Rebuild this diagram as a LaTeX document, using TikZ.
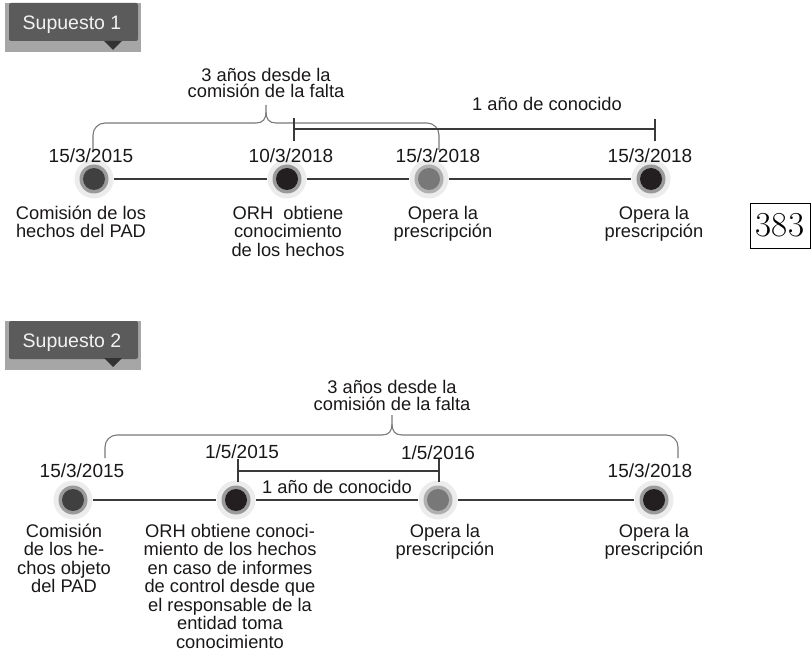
\documentclass[tikz,border=0pt]{standalone}
\usepackage{fontspec}
\newfontfamily\sansf{Liberation Sans}
\usetikzlibrary{calc}
\definecolor{txtc}{HTML}{1A1718}
\definecolor{linec}{HTML}{3A3A3A}
\definecolor{bracec}{HTML}{7A7A7A}
\definecolor{haloc}{HTML}{ECECEC}
\definecolor{ringA}{HTML}{9A9A9A}
\definecolor{ringB}{HTML}{B0B0B0}
\definecolor{innA}{HTML}{404040}
\definecolor{innB}{HTML}{231F20}
\definecolor{innC}{HTML}{787878}
\definecolor{tagbg}{HTML}{A6A6A6}
\definecolor{tagc}{HTML}{5B5B5B}
\definecolor{tagtri}{HTML}{333333}
\definecolor{tagtxt}{HTML}{F2F2F2}
\begin{document}
\begin{tikzpicture}[x=1pt,y=-1pt,
  txt/.style={font=\sansf\fontsize{18.3}{18.5}\selectfont, text=txtc, inner sep=0pt},
  datet/.style={txt, font=\sansf\fontsize{19}{19}\selectfont, anchor=base},
  lbl/.style={txt, align=center, anchor=north},
  bracetext/.style={txt, font=\sansf\fontsize{18.3}{16.5}\selectfont, align=center, anchor=base},
  dot/.style 2 args={circle, fill=haloc, minimum size=39, inner sep=0pt,
     path picture={\fill[#1] (path picture bounding box.center) circle[radius=14.5];
                   \fill[#2] (path picture bounding box.center) circle[radius=11];}},
  tline/.style={draw=linec, line width=2pt},
  bracket/.style={draw=linec, line width=1.8pt},
  brace/.style={draw=bracec, line width=1.1pt},
  tagbox/.style={fill=tagc, rounded corners=2pt, minimum width=129, minimum height=38, inner sep=0pt},
  tagtext/.style={font=\sansf\fontsize{19.5}{20}\selectfont, text=tagtxt, anchor=base, inner sep=0pt}
]
\useasboundingbox (0,0) rectangle (811,652);

% ---------- Supuesto 1 ----------
\fill[tagbg] (5,3) rectangle (141,52);
\node[tagbox] (s1) at (73.5,22) {};
\node[tagtext] (s1t) at (72,30) {Supuesto 1};
\fill[tagtri] (104,41) -- (122,41) -- (113,50) -- cycle;

% brace 1
\node[bracetext] (b1t) at (266,98) {3 años desde la\\comisión de la falta};
\coordinate (b1l) at (93,152);
\coordinate (b1r) at (439,150);
\coordinate (b1m) at (266,105);
\draw[brace, rounded corners=12pt] (b1l) -- (93,123) -- (256,123);
\draw[brace] (256,123) .. controls (263,123) and (266,119) .. (266,112) -- (b1m);
\draw[brace] (266,112) .. controls (266,119) and (269,123) .. (276,123);
\draw[brace, rounded corners=12pt] (276,123) -- (439,123) -- (b1r);

% 1 año bracket (T1)
\coordinate (k1a) at (294,129);
\coordinate (k1b) at (655,129);
\draw[bracket] (k1a) -- (k1b);
\draw[bracket] ($(k1a)+(0,-11)$) -- ($(k1a)+(0,12)$);
\draw[bracket] ($(k1b)+(0,-10)$) -- ($(k1b)+(0,12)$);
\node[txt, anchor=base] (k1t) at (547,111) {1 año de conocido};

% timeline 1
\node[dot={ringA}{innA}] (c1) at (94,179) {};
\node[dot={ringA}{innB}] (c2) at (287,179) {};
\node[dot={ringB}{innC}] (c3) at (429,179) {};
\node[dot={ringA}{innB}] (c4) at (651,179) {};
\draw[tline] (c1) -- (c2) -- (c3) -- (c4);

\node[datet] (d1) at (91,163) {15/3/2015};
\node[datet] (d2) at (291,163) {10/3/2018};
\node[datet] (d3) at (438,163) {15/3/2018};
\node[datet] (d4) at (650,163) {15/3/2018};

\node[lbl] (l1) at (81,205) {\rule{0pt}{14pt}Comisión de los\\hechos del PAD};
\node[lbl] (l2) at (288,205) {\rule{0pt}{14pt}ORH\ \ obtiene\\conocimiento\\de los hechos};
\node[lbl] (l3) at (443,205) {\rule{0pt}{14pt}Opera la\\prescripción};
\node[lbl] (l4) at (654,205) {\rule{0pt}{14pt}Opera la\\prescripción};

% page number
\node[draw=black, line width=0.9pt, font=\fontsize{35}{35}\selectfont, minimum width=60, minimum height=45, inner sep=0pt] (pg) at (780,225.5) {383};

% ---------- Supuesto 2 ----------
\fill[tagbg] (5,321) rectangle (141,370);
\node[tagbox] (s2) at (73.5,340) {};
\node[tagtext] (s2t) at (72,347) {Supuesto 2};
\fill[tagtri] (104,358) -- (122,358) -- (113,367) -- cycle;

% brace 2
\node[bracetext] (b2t) at (392,410) {3 años desde la\\comisión de la falta};
\coordinate (b2l) at (105,458);
\coordinate (b2r) at (678,458);
\coordinate (b2m) at (392,415);
\draw[brace, rounded corners=12pt] (b2l) -- (105,435) -- (382,435);
\draw[brace] (382,435) .. controls (389,435) and (392,431) .. (392,424) -- (b2m);
\draw[brace] (392,424) .. controls (392,431) and (395,435) .. (402,435);
\draw[brace, rounded corners=12pt] (402,435) -- (678,435) -- (b2r);

% timeline 2
\node[dot={ringA}{innA}] (e1) at (73,500) {};
\node[dot={ringA}{innB}] (e2) at (236,500) {};
\node[dot={ringB}{innC}] (e3) at (438,500) {};
\node[dot={ringA}{innB}] (e4) at (654,500) {};
\draw[tline] (e1) -- (e2) -- (e3) -- (e4);

% 1 año bracket (T2)
\coordinate (k2a) at (238,471);
\coordinate (k2b) at (439,471);
\draw[bracket] (k2a) -- (k2b);
\draw[bracket] ($(k2a)+(0,-12)$) -- ($(k2a)+(0,11)$);
\draw[bracket] ($(k2b)+(0,-12)$) -- ($(k2b)+(0,11)$);
\node[txt, anchor=base] (k2t) at (337,493) {1 año de conocido};

\node[datet] (f1) at (82,477) {15/3/2015};
\node[datet] (f2) at (242,458) {1/5/2015};
\node[datet] (f3) at (438,459) {1/5/2016};
\node[datet] (f4) at (650,477) {15/3/2018};

\node[lbl] (m1) at (64,523) {\rule{0pt}{14pt}Comisión\\de los he-\\chos objeto\\del PAD};
\node[lbl] (m2) at (230,523) {\rule{0pt}{14pt}ORH obtiene conoci-\\miento de los hechos\\en caso de informes\\de control desde que\\el responsable de la\\entidad toma\\conocimiento};
\node[lbl] (m3) at (445,523) {\rule{0pt}{14pt}Opera la\\prescripción};
\node[lbl] (m4) at (654,523) {\rule{0pt}{14pt}Opera la\\prescripción};
\end{tikzpicture}
\end{document}
